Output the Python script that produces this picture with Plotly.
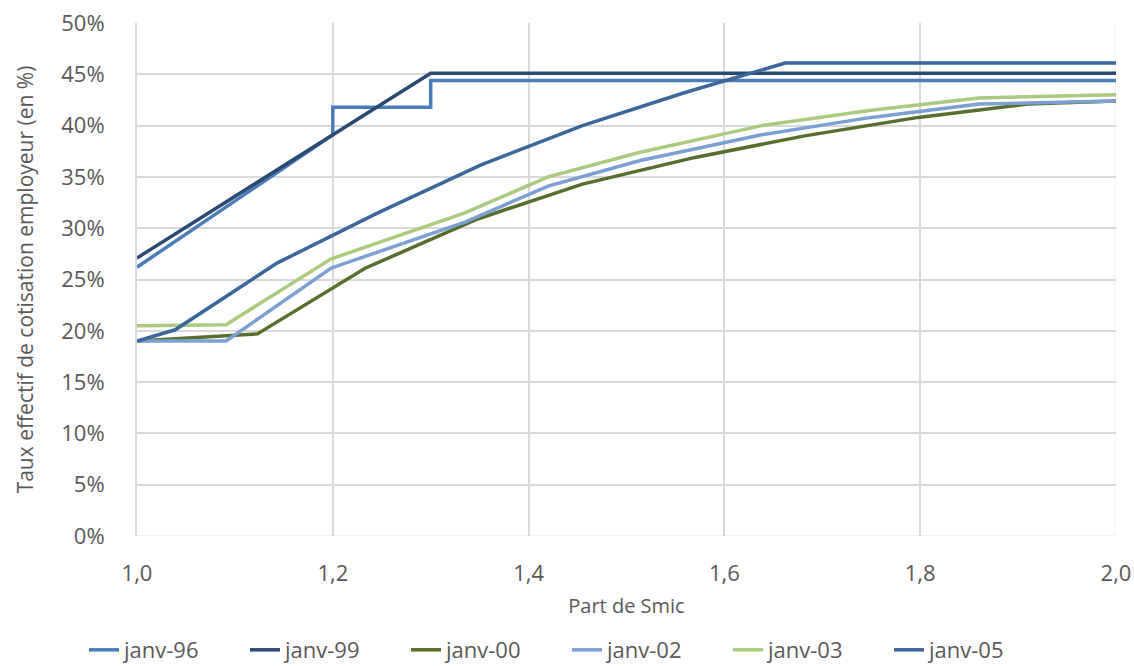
import plotly.graph_objects as go

# Part de Smic (x) and employer contribution rate in % (y)
x_96 = [1.0, 1.2, 1.2, 1.3, 1.3, 2.0]
y_96 = [26.2, 39.1, 41.8, 41.8, 44.4, 44.4]

x_99 = [1.0, 1.3, 2.0]
y_99 = [27.1, 45.1, 45.1]

x_00 = [1.0, 1.123, 1.233, 1.348, 1.455, 1.57, 1.682, 1.798, 1.91, 2.0]
y_00 = [19.0, 19.7, 26.1, 30.9, 34.3, 36.9, 39.0, 40.8, 42.1, 42.4]

x_02 = [1.0, 1.091, 1.198, 1.335, 1.42, 1.514, 1.638, 1.75, 1.86, 2.0]
y_02 = [19.0, 19.0, 26.1, 30.6, 34.1, 36.6, 39.1, 40.8, 42.1, 42.4]

x_03 = [1.0, 1.091, 1.198, 1.335, 1.42, 1.514, 1.638, 1.75, 1.86, 2.0]
y_03 = [20.5, 20.6, 27.0, 31.5, 35.0, 37.4, 40.0, 41.5, 42.7, 43.0]

x_05 = [1.0, 1.039, 1.143, 1.246, 1.352, 1.455, 1.559, 1.662, 2.0]
y_05 = [19.0, 20.1, 26.6, 31.5, 36.2, 40.0, 43.2, 46.1, 46.1]

series = [
    ('janv-96', x_96, y_96, '#4A7EBB'),
    ('janv-99', x_99, y_99, '#2A4A74'),
    ('janv-00', x_00, y_00, '#576F2C'),
    ('janv-02', x_02, y_02, '#7BA0D4'),
    ('janv-03', x_03, y_03, '#ABCA7F'),
    ('janv-05', x_05, y_05, '#3A679C'),
]

fig = go.Figure()
for name, xs, ys, color in series:
    fig.add_trace(go.Scatter(x=xs, y=ys, name=name, mode='lines',
                             line=dict(color=color, width=3.5)))

font_color = '#595959'
fig.update_layout(
    width=1134, height=666,
    template='simple_white',
    separators=', ',
    font=dict(family='Open Sans, sans-serif', size=22, color=font_color),
    margin=dict(l=137, r=18, t=23, b=130, autoexpand=False),
    plot_bgcolor='white', paper_bgcolor='white',
    legend=dict(orientation='h', xref='container', x=0.5, xanchor='center',
                yref='container', y=0.024, yanchor='middle',
                entrywidth=116, entrywidthmode='pixels', font=dict(size=22)),
)
fig.update_xaxes(
    range=[1.0, 2.0], dtick=0.2, tickformat='.1f', automargin=False,
    showgrid=True, gridcolor='#D9D9D9', gridwidth=2,
    showline=False, ticks='', zeroline=False, ticklabelstandoff=22,
    title=dict(text='Part de Smic', font=dict(size=20), standoff=12),
    tickfont=dict(size=22),
)
fig.update_yaxes(
    range=[0, 50], dtick=5, ticksuffix='%', automargin=False,
    showgrid=True, gridcolor='#D9D9D9', gridwidth=2,
    showline=True, linecolor='#D9D9D9', linewidth=2, ticks='', zeroline=False,
    ticklabelstandoff=26,
    title=dict(text='Taux effectif de cotisation employeur (en %)', font=dict(size=21), standoff=22),
    tickfont=dict(size=22),
)
# bottom axis line and right-edge gridline
fig.add_hline(y=0, line=dict(color='#D9D9D9', width=2), layer='below')
fig.add_vline(x=2.0, line=dict(color='#D9D9D9', width=2), layer='below')

# drop the default 8px page margin so the figure fills the window
fig.write_html('out.html', config={'displayModeBar': False},
               post_script="document.body.style.margin='0px';")
